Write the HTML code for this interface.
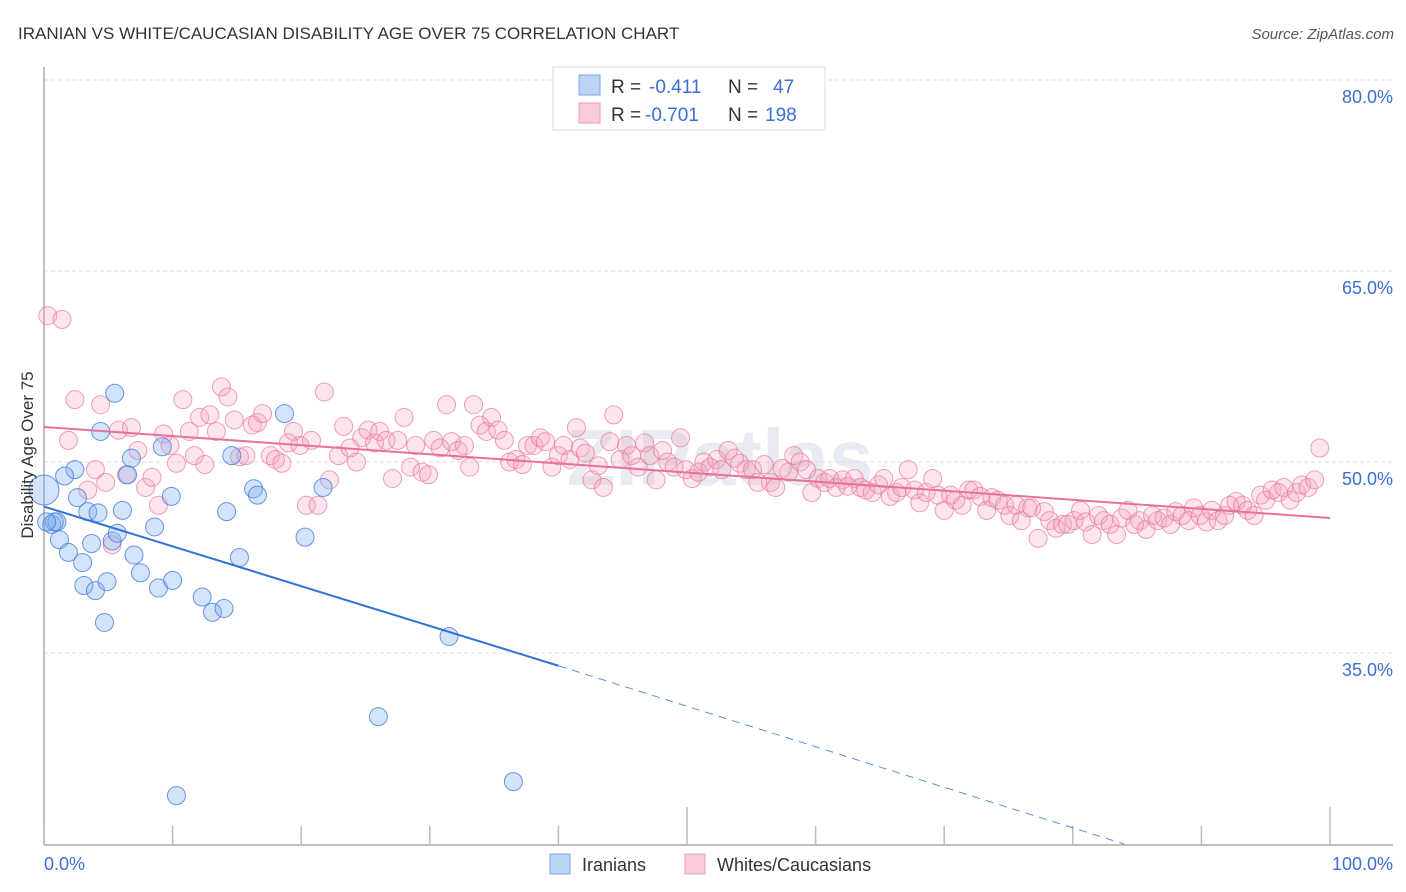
<!DOCTYPE html>
<html><head><meta charset="utf-8"><style>
body{margin:0;background:#fff;font-family:"Liberation Sans",sans-serif;}
svg{display:block}
</style></head><body>
<svg id="chart" width="1406" height="892">
<text x="18" y="39" font-size="17" fill="#333">IRANIAN VS WHITE/CAUCASIAN DISABILITY AGE OVER 75 CORRELATION CHART</text>
<text x="1394" y="39" font-size="15" fill="#555" font-style="italic" text-anchor="end">Source: ZipAtlas.com</text>
<text x="720" y="485" font-size="80" fill="#e8ecf2" text-anchor="middle" font-weight="bold">ZIPatlas</text>
<g id="grid"></g><g id="axes"></g><g id="pts"></g><g id="lines"></g>
<text transform="translate(33,455) rotate(-90)" font-size="17" fill="#333" text-anchor="middle">Disability Age Over 75</text>
<text x="44" y="870" font-size="18" fill="#3b6fd4">0.0%</text>
<text x="1393" y="870" font-size="18" fill="#3b6fd4" text-anchor="end">100.0%</text>
<g>
<rect x="553" y="67" width="272" height="63" fill="#fff" stroke="#ddd"/>
<rect x="579" y="75" width="21" height="20" fill="#bcd3f5" stroke="#7aa6e8"/>
<rect x="579" y="103" width="21" height="20" fill="#fccbd8" stroke="#ee9ab5"/>
<text x="611" y="93" font-size="19" fill="#333">R = </text><text x="649" y="93" font-size="19" fill="#3b6fd4">-0.411</text>
<text x="728" y="93" font-size="19" fill="#333">N = </text><text x="773" y="93" font-size="19" fill="#3b6fd4">47</text>
<text x="611" y="121" font-size="19" fill="#333">R = </text><text x="645" y="121" font-size="19" fill="#3b6fd4">-0.701</text>
<text x="728" y="121" font-size="19" fill="#333">N = </text><text x="765" y="121" font-size="19" fill="#3b6fd4">198</text>
</g>
<g>
<rect x="550" y="854" width="20" height="20" fill="#bcd3f5" stroke="#7aa6e8"/>
<text x="582" y="871" font-size="18" fill="#333">Iranians</text>
<rect x="685" y="854" width="20" height="20" fill="#fccbd8" stroke="#ee9ab5"/>
<text x="717" y="871" font-size="18" fill="#333">Whites/Caucasians</text>
</g>
</svg>
<script>
const yTicks=[35,50,65,80];
const yTickLabels=["35.0%","50.0%","65.0%","80.0%"];
const xTicks=[0,10,20,30,40,50,60,70,80,90,100];
const blueX=[0,0.6,1.0,1.2,1.9,2.4,2.6,3.0,3.1,3.4,3.7,4.0,4.2,4.4,4.7,4.9,5.3,5.5,5.7,6.1,6.5,6.8,7.0,7.5,8.6,8.9,9.2,9.9,10.0,12.3,13.1,14.0,14.2,14.6,15.2,16.3,16.6,18.7,20.3,21.7,26.0,31.5,36.5,10.3,1.6,0.8,0.2];
const blueY=[47.8,45.1,45.3,43.9,42.9,49.4,47.2,42.1,40.3,46.1,43.6,39.9,46.0,52.4,37.4,40.6,43.8,55.4,44.4,46.2,49.0,50.3,42.7,41.3,44.9,40.1,51.2,47.3,40.7,39.4,38.2,38.5,46.1,50.5,42.5,47.9,47.4,53.8,44.1,48.0,30.0,36.3,24.9,23.8,48.9,45.3,45.3];
const pinkX=[0.3,1.4,1.9,2.4,3.4,4.0,4.4,4.8,5.3,5.8,6.4,6.8,7.3,7.9,8.4,8.9,9.3,9.8,10.3,10.8,11.3,11.7,12.1,12.5,12.9,13.4,13.8,14.3,14.8,15.2,15.7,16.2,16.6,17.0,17.6,18.0,18.5,19.0,19.4,19.9,20.4,20.8,21.3,21.8,22.2,22.9,23.3,23.8,24.3,24.7,25.2,25.7,26.1,26.6,27.1,27.5,28.0,28.5,28.9,29.4,29.9,30.3,30.8,31.3,31.7,32.2,32.7,33.1,33.4,33.9,34.4,34.8,35.3,35.8,36.2,36.7,37.2,37.6,38.1,38.6,39.0,39.5,40.0,40.4,40.9,41.4,41.7,42.1,42.6,43.1,43.5,44.0,44.3,44.8,45.3,45.7,46.2,46.7,47.1,47.6,48.1,48.5,49.0,49.5,49.9,50.4,50.9,51.3,51.8,52.3,52.7,53.2,53.7,54.1,54.6,55.1,55.5,56.0,56.5,56.9,57.4,57.9,58.3,58.8,59.3,59.7,60.2,60.7,61.1,61.6,62.1,62.5,63.0,63.5,63.9,64.4,64.9,65.3,65.8,66.3,66.7,67.2,67.7,68.1,68.6,69.1,69.5,70.0,70.5,70.9,71.4,71.9,72.3,72.8,73.3,73.7,74.2,74.7,75.1,75.6,76.0,76.5,76.8,77.3,77.8,78.2,78.7,79.2,79.6,80.1,80.6,81.0,81.5,82.0,82.4,82.9,83.4,83.8,84.3,84.8,85.2,85.7,86.2,86.6,87.1,87.6,88.0,88.5,89.0,89.4,89.9,90.4,90.8,91.3,91.8,92.2,92.7,93.2,93.6,94.1,94.6,95.0,95.5,96.0,96.4,96.9,97.4,97.8,98.3,98.8,99.2];
const pinkY=[61.5,61.2,51.7,54.9,47.8,49.4,54.5,48.4,43.5,52.5,49.0,52.7,50.9,48.0,48.8,46.6,52.2,51.3,49.9,54.9,52.4,50.5,53.5,49.8,53.7,52.4,55.9,55.1,53.3,50.4,50.5,52.9,53.1,53.8,50.5,50.2,49.9,51.5,52.4,51.3,46.6,51.7,46.6,55.5,48.6,50.5,52.8,51.1,50.0,51.9,52.5,51.5,52.4,51.7,48.7,51.7,53.5,49.6,51.3,49.2,49.0,51.7,51.1,54.5,51.6,50.9,51.3,49.6,54.5,52.9,52.4,53.5,52.5,51.7,50.0,50.2,49.8,51.3,51.3,51.9,51.6,49.6,50.5,51.3,50.2,52.7,51.1,50.7,48.6,49.7,48.0,51.6,53.7,50.2,51.3,50.5,49.6,51.5,50.5,48.6,50.9,50.0,49.6,51.9,49.4,48.7,49.2,50.0,49.6,50.2,49.4,50.9,50.3,49.9,49.4,49.4,48.4,49.8,48.4,48.0,49.5,49.2,50.5,50.0,49.4,47.6,48.7,48.4,48.7,48.0,48.6,48.1,48.7,48.0,47.8,47.6,48.2,48.7,47.3,47.6,48.0,49.4,47.8,46.8,47.6,48.7,47.4,46.2,47.4,47.0,46.6,47.8,47.8,47.3,46.2,47.2,47.0,46.6,45.8,46.6,45.4,46.4,46.4,44.0,46.1,45.4,44.8,45.1,45.1,45.4,46.2,45.3,44.3,45.8,45.4,45.1,44.3,45.6,46.2,45.1,45.4,44.7,45.8,45.4,45.6,45.1,46.1,45.8,45.4,46.4,45.8,45.3,46.2,45.4,45.8,46.6,46.9,46.6,46.2,45.8,47.4,47.0,47.8,47.6,48.0,47.0,47.6,48.2,48.0,48.6,51.1];
const blueTrend=[[0,46.5],[40,34.0]];
const blueTrendExt=[[40,34.0],[84,20]];
const pinkTrend=[[0,52.75],[100,45.6]];
const NS='http://www.w3.org/2000/svg';
const X0=44,X1=1330,Y50=462,PPY=191/15;
function sx(v){return X0+(X1-X0)*v/100;}
function sy(v){return Y50-(v-50)*PPY;}
function mk(tag,attrs,parent){const e=document.createElementNS(NS,tag);for(const k in attrs)e.setAttribute(k,attrs[k]);parent.appendChild(e);return e;}
const grid=document.getElementById('grid'),axes=document.getElementById('axes'),pts=document.getElementById('pts'),lines=document.getElementById('lines');
yTicks.forEach((t,i)=>{
 const l=mk('line',{x1:44,x2:1393,y1:sy(t),y2:sy(t),stroke:'#ddd','stroke-dasharray':'4,3'},grid);
 
 
 const tx=mk('text',{x:1393,y:sy(t)+23,'font-size':18,fill:'#3b6fd4','text-anchor':'end'},grid);
 tx.textContent=yTickLabels[i];
 
 
});
const ya=mk('line',{x1:44,x2:44,y1:67,y2:845,stroke:'#aaa','stroke-width':1.5},axes);


const xa=mk('line',{x1:44,x2:1393,y1:845,y2:845,stroke:'#aaa','stroke-width':1.5},axes);


xTicks.forEach(t=>{
 const tall=(t===50||t===100);
 const k=mk('line',{x1:sx(t),x2:sx(t),y1:tall?807:826,y2:845,stroke:'#bbb','stroke-width':1.5},axes);
 
 
});
const n1=Math.min(pinkX.length,pinkY.length);
for(let i=0;i<n1;i++){
 const c=mk('circle',{cx:sx(pinkX[i]),cy:sy(pinkY[i]),r:9,fill:'rgba(246,160,188,0.28)',stroke:'rgba(232,120,160,0.7)','stroke-width':1},pts);
 
 
}
const n2=Math.min(blueX.length,blueY.length);
for(let i=0;i<n2;i++){
 const c=mk('circle',{cx:sx(blueX[i]),cy:sy(blueY[i]),r:i===0?15:9,fill:'rgba(130,175,240,0.35)',stroke:'rgba(70,125,215,0.8)','stroke-width':1},pts);
 
 
}
const bl=mk('line',{x1:sx(blueTrend[0][0]),y1:sy(blueTrend[0][1]),x2:sx(blueTrend[1][0]),y2:sy(blueTrend[1][1]),stroke:'#2f72d8','stroke-width':2},lines);


const bd=mk('line',{x1:sx(blueTrendExt[0][0]),y1:sy(blueTrendExt[0][1]),x2:sx(blueTrendExt[1][0]),y2:sy(blueTrendExt[1][1]),stroke:'#5b8fe0','stroke-width':1,'stroke-dasharray':'8,6'},lines);


const pl=mk('line',{x1:sx(pinkTrend[0][0]),y1:sy(pinkTrend[0][1]),x2:sx(pinkTrend[1][0]),y2:sy(pinkTrend[1][1]),stroke:'#e8709a','stroke-width':2},lines);


</script>
</body></html>
